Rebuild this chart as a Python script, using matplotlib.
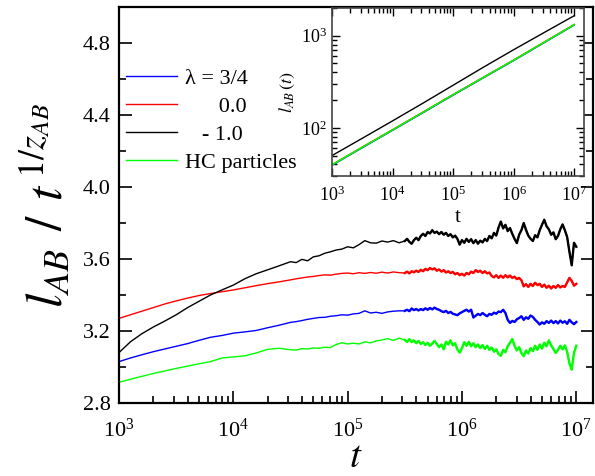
import numpy as np
import matplotlib
matplotlib.use("Agg")
import matplotlib.pyplot as plt
from matplotlib.ticker import MultipleLocator, LogLocator, NullFormatter

plt.rcParams['font.family'] = ['Liberation Serif', 'DejaVu Serif']
plt.rcParams['mathtext.fontset'] = 'stix'

# log10(t) sampling: coarse early, finer where the curves get noisy
log_t = np.concatenate([np.linspace(3.0, 4.4, 15),
                        np.linspace(4.5, 5.45, 20),
                        np.linspace(5.5, 7.0, 76)])

black = [
    3.080, 3.140, 3.185, 3.222, 3.255, 3.290, 3.330, 3.365, 3.400, 3.428,
    3.455, 3.490, 3.518, 3.540, 3.562,
    3.585, 3.580, 3.598, 3.590, 3.612, 3.618, 3.632, 3.640, 3.650, 3.655,
    3.668, 3.662, 3.680, 3.702, 3.690, 3.688, 3.700, 3.694, 3.702, 3.690,
    3.700, 3.712, 3.695, 3.685, 3.705, 3.718, 3.705, 3.728, 3.740, 3.728,
    3.750, 3.742, 3.760, 3.745, 3.752, 3.738, 3.750, 3.735, 3.745, 3.728,
    3.738, 3.720, 3.730, 3.712, 3.680,
    3.705, 3.690, 3.712, 3.695, 3.710, 3.688, 3.705, 3.685, 3.702, 3.692,
    3.712, 3.700, 3.728, 3.715, 3.745, 3.730, 3.775, 3.808, 3.770, 3.790,
    3.755, 3.772, 3.740, 3.712, 3.688, 3.735, 3.760, 3.800, 3.762, 3.730,
    3.712, 3.700, 3.732, 3.720, 3.760, 3.790, 3.818, 3.782, 3.765, 3.735,
    3.748, 3.710, 3.728, 3.765, 3.792, 3.760, 3.722, 3.640, 3.565, 3.690,
    3.668]

red = [
    3.270, 3.290, 3.310, 3.330, 3.350, 3.367, 3.383, 3.397, 3.408, 3.418,
    3.428, 3.440, 3.452, 3.463, 3.473,
    3.484, 3.490, 3.495, 3.500, 3.503, 3.508, 3.512, 3.510, 3.516, 3.520,
    3.522, 3.518, 3.524, 3.520, 3.525, 3.521, 3.527, 3.522, 3.528, 3.524,
    3.522, 3.530, 3.520, 3.532, 3.526, 3.535, 3.528, 3.540, 3.532, 3.545,
    3.538, 3.550, 3.542, 3.548, 3.535, 3.542, 3.530, 3.538, 3.525, 3.532,
    3.522, 3.528, 3.515, 3.522, 3.510,
    3.518, 3.508, 3.522, 3.515, 3.530, 3.522, 3.538, 3.528, 3.535, 3.522,
    3.532, 3.520, 3.525, 3.505, 3.498, 3.510, 3.495, 3.508, 3.496, 3.510,
    3.498, 3.508, 3.495, 3.502, 3.488, 3.495, 3.482, 3.448, 3.460, 3.445,
    3.462, 3.450, 3.468, 3.455, 3.462, 3.445, 3.458, 3.440, 3.452, 3.436,
    3.450, 3.440, 3.455, 3.442, 3.450, 3.445, 3.470, 3.495, 3.478, 3.452,
    3.462]

blue = [
    3.030, 3.050, 3.068, 3.085, 3.100, 3.115, 3.130, 3.148, 3.165, 3.175,
    3.188, 3.195, 3.203, 3.218, 3.232,
    3.248, 3.252, 3.258, 3.265, 3.270, 3.275, 3.276, 3.282, 3.285, 3.290,
    3.288, 3.295, 3.298, 3.312, 3.300, 3.304, 3.298, 3.306, 3.310, 3.312,
    3.312, 3.318, 3.310, 3.325, 3.316, 3.322, 3.314, 3.322, 3.316, 3.326,
    3.318, 3.328, 3.320, 3.330, 3.322, 3.318, 3.310, 3.305, 3.312, 3.300,
    3.306, 3.296, 3.292, 3.288, 3.298,
    3.305, 3.312, 3.318, 3.308, 3.318, 3.275, 3.285, 3.295, 3.288, 3.300,
    3.290, 3.282, 3.295, 3.290, 3.302, 3.296, 3.308, 3.305, 3.318, 3.300,
    3.262, 3.245, 3.256, 3.250, 3.265, 3.272, 3.282, 3.262, 3.276, 3.268,
    3.286, 3.278, 3.262, 3.250, 3.236, 3.248, 3.240, 3.255, 3.245, 3.258,
    3.244, 3.255, 3.242, 3.258, 3.246, 3.254, 3.240, 3.262, 3.248, 3.238,
    3.250]

green = [
    2.915, 2.932, 2.948, 2.964, 2.978, 2.992, 3.005, 3.018, 3.030, 3.050,
    3.056, 3.062, 3.078, 3.098, 3.104,
    3.096, 3.094, 3.102, 3.100, 3.106, 3.104, 3.110, 3.108, 3.125, 3.135,
    3.128, 3.132, 3.128, 3.140, 3.134, 3.145, 3.150, 3.158, 3.148, 3.160,
    3.150, 3.140, 3.155, 3.138, 3.148, 3.132, 3.145, 3.128, 3.138, 3.122,
    3.135, 3.118, 3.130, 3.145, 3.128, 3.110, 3.125, 3.098, 3.140, 3.125,
    3.148, 3.120, 3.132, 3.098, 3.080,
    3.105, 3.138, 3.118, 3.140, 3.115, 3.132, 3.110, 3.125, 3.105, 3.122,
    3.100, 3.118, 3.095, 3.108, 3.085, 3.098, 3.072, 3.062, 3.095, 3.082,
    3.115, 3.135, 3.155, 3.118, 3.092, 3.110, 3.078, 3.060, 3.092, 3.075,
    3.105, 3.088, 3.118, 3.095, 3.125, 3.102, 3.135, 3.115, 3.148, 3.120,
    3.100, 3.078, 3.095, 3.118, 3.098, 3.120, 3.085, 3.020, 2.985, 3.080,
    3.118]

# inset: l_AB(t) itself
inset_log_t = [3.0, 3.5, 4.0, 4.5, 5.0, 5.5, 6.0, 6.5, 7.0]
inset_black = [50, 77, 119, 185, 290, 455, 705, 1080, 1650]
inset_red = [39.8, 61.8, 95.5, 148, 230, 354, 545, 850, 1325]
inset_blue = [39.2, 60.8, 94, 145.5, 226.5, 349, 537, 838, 1305]
inset_green = [39.6, 61.5, 95, 147, 229, 352, 542, 845, 1318]

labels = [u'\u03bb = 3/4', u'      0.0', u'   - 1.0', 'HC particles']
colors = ['#0000ff', '#ff0000', '#000000', '#00ff00']

fig = plt.figure(figsize=(5.95, 4.76), dpi=100)
ax = fig.add_axes([119/595, 73/476, 474/595, 396/476])

t = 10 ** log_t
late = log_t >= 5.49
for y, c, lab in zip([blue, red, black, green], colors, labels):
    y = np.array(y)
    ax.plot(t, y, color=c, lw=1.0, label=lab)
    # the noisy tail looks heavier
    ax.plot(t[late], y[late], color=c, lw=1.7)

ax.set_xscale('log')
ax.set_xlim(1e3, 1.4e7)
ax.set_ylim(2.8, 5.0)
ax.yaxis.set_major_locator(MultipleLocator(0.4))
ax.yaxis.set_minor_locator(MultipleLocator(0.2))
ax.yaxis.set_major_formatter(plt.FormatStrFormatter('%.1f'))
ax.xaxis.set_major_locator(LogLocator(base=10, numticks=10))
ax.xaxis.set_minor_locator(LogLocator(base=10, subs=np.arange(2, 10), numticks=10))
ax.xaxis.set_minor_formatter(NullFormatter())
ax.tick_params(which='both', direction='in', top=False, right=True, labelsize=16)
ax.tick_params(which='major', length=9, width=1.2)
ax.tick_params(which='minor', length=5, width=1.2)
ax.tick_params(axis='x', which='major', pad=11)
ax.tick_params(axis='y', which='major', pad=6)
for s in ax.spines.values():
    s.set_linewidth(1.6)

ax.set_xlabel(r'$t$', fontsize=28, labelpad=-2)
ax.set_ylabel(r'$l_{AB}\;\,/\;\,t^{\,1/z_{AB}}$', fontsize=37, labelpad=6)

ax.legend(loc='upper left', bbox_to_anchor=(0.015, 0.845), frameon=False,
          fontsize=16, handlelength=2.3, handletextpad=0.35,
          labelspacing=0.33, borderpad=0, borderaxespad=0)

# inset with the raw lengths
axi = fig.add_axes([332/595, 300/476, 252/595, 168/476])
ti = 10 ** np.array(inset_log_t)
axi.plot(ti, inset_black, color='#000000', lw=1.0)
axi.plot(ti, inset_blue, color='#0000ff', lw=1.0)
axi.plot(ti, inset_red, color='#ff0000', lw=1.0)
axi.plot(ti, inset_green, color='#00ff00', lw=1.2)
axi.set_xscale('log')
axi.set_yscale('log')
axi.set_xlim(1e3, 1.45e7)
axi.set_ylim(30, 2000)
axi.xaxis.set_major_locator(LogLocator(base=10, numticks=10))
axi.xaxis.set_minor_locator(LogLocator(base=10, subs=np.arange(2, 10), numticks=10))
axi.xaxis.set_minor_formatter(NullFormatter())
axi.yaxis.set_minor_formatter(NullFormatter())
axi.tick_params(which='both', direction='in', top=True, right=True, labelsize=13)
axi.tick_params(which='major', length=6, width=1.0)
axi.tick_params(which='minor', length=3.5, width=1.0)
axi.tick_params(axis='x', which='major', pad=7)
for s in axi.spines.values():
    s.set_linewidth(1.2)
    s.set_color('#444444')
axi.set_xlabel('t', fontsize=15, labelpad=2)
axi.set_ylabel(r'$l_{AB}\,(t)$', fontsize=13, labelpad=3)

fig.savefig('out.png', dpi=100)
